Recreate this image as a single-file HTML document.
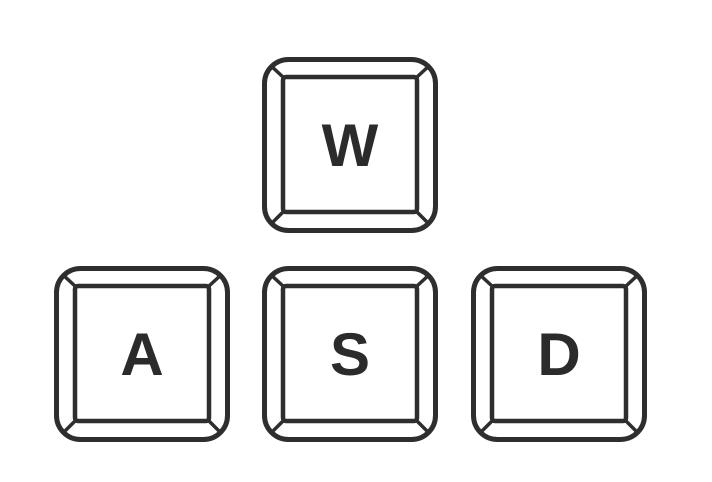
<!DOCTYPE html>
<html><head><meta charset="utf-8"><style>
html,body{margin:0;padding:0;background:#fff;}
svg{display:block;}
text{font-family:"Liberation Sans",sans-serif;font-weight:bold;font-size:60px;fill:#2b2b2b;}
</style></head><body>
<svg width="712" height="482" viewBox="0 0 712 482" id="s"></svg>
<script>
const keyLabels=["W","A","S","D"];
const keyX=[262,54,262,471];
const keyY=[57,266,266,266];
const s=document.getElementById('s');
const NS='http://www.w3.org/2000/svg';
function mk(t,a,p){const e=document.createElementNS(NS,t);for(const k in a)e.setAttribute(k,a[k]);p.appendChild(e);return e;}
keyLabels.forEach((L,i)=>{
  const x=keyX[i],y=keyY[i],S=176;
  const g=mk('g',{},s);
  
  
  const st={fill:'none',stroke:'#2e2e2e','stroke-width':5};
  mk('rect',Object.assign({x:x+2.5,y:y+2.5,width:S-5,height:S-5,rx:24},st),g);
  const ix=x+21,iy=y+20,iw=134,ih=135;
  mk('rect',Object.assign({x:ix,y:iy,width:iw,height:ih,rx:3},st,{'stroke-width':4.5}),g);
  const c=[[ix,iy,x+8,y+8],[ix+iw,iy,x+S-8,y+8],[ix,iy+ih,x+8,y+S-8],[ix+iw,iy+ih,x+S-8,y+S-8]];
  c.forEach(p=>mk('line',{x1:p[0],y1:p[1],x2:p[2],y2:p[3],stroke:'#2e2e2e','stroke-width':3.5},g));
  const t=mk('text',{x:x+S/2,y:y+109,'text-anchor':'middle'},g);
  t.textContent=L;
  
  
});
</script>
</body></html>
